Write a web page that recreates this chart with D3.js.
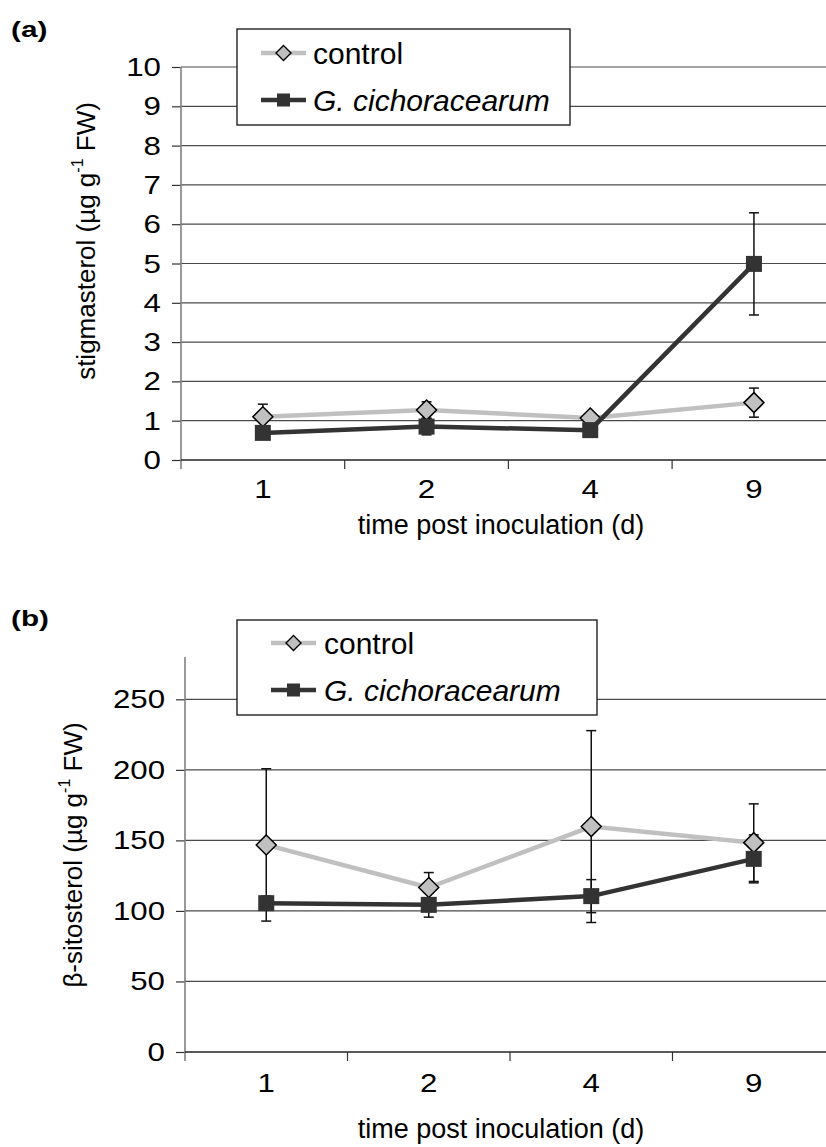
<!DOCTYPE html>
<html>
<head>
<meta charset="utf-8">
<script src="https://cdn.jsdelivr.net/npm/d3@7"></script>
<style>
  html, body { margin: 0; padding: 0; background: #fff; }
  svg { display: block; font-family: "Liberation Sans", Arial, sans-serif; }
</style>
</head>
<body>
<svg id="chart" width="826" height="1147"></svg>
<script>
// ---------- data ----------
const days = ["1", "2", "4", "9"];
const seriesNames = ["control", "G. cichoracearum"];

// panel (a) stigmasterol
const stigControl    = [1.10, 1.27, 1.07, 1.46];
const stigControlErr = [0.32, 0.21, 0.05, 0.37];
const stigInf        = [0.69, 0.85, 0.76, 4.99];
const stigInfErr     = [0.10, 0.21, 0.08, 1.30];
const stigTicks      = [0, 1, 2, 3, 4, 5, 6, 7, 8, 9, 10];

// panel (b) beta-sitosterol
const sitoControl    = [146.8, 116.6, 159.8, 148.4];
const sitoControlErr = [54.0, 10.6, 68.0, 27.5];
const sitoInf        = [105.5, 104.3, 110.5, 136.9];
const sitoInfErr     = [5.0, 8.7, 11.7, 17.0];
const sitoTicks      = [0, 50, 100, 150, 200, 250];

const svg = d3.select("#chart");
const W = 826;
const STRETCH = 1.25;

function panel(cfg) {
  const g = svg.append("g");
  const x = d3.scaleBand().domain(days).range([cfg.left, cfg.left + 4 * cfg.band]).padding(0);
  const y = d3.scaleLinear().domain(cfg.domain).range([cfg.y0, cfg.yTop]);

  // gridlines
  g.selectAll("line.grid").data(cfg.ticks.filter(d => d > 0)).join("line")
    .attr("x1", cfg.left).attr("x2", W)
    .attr("y1", d => y(d)).attr("y2", d => y(d))
    .attr("stroke", "#4a4a4a").attr("stroke-width", 1.2);

  // y axis ticks (generator) + stretched labels
  const yAxis = d3.axisLeft(y).tickValues(cfg.ticks).tickSize(9).tickFormat("");
  const ya = g.append("g").attr("transform", `translate(${cfg.left},0)`).call(yAxis);
  ya.select(".domain").remove();
  ya.selectAll(".tick line").attr("stroke", "#333").attr("stroke-width", 1.2);
  g.selectAll(null).data(cfg.ticks).join("text")
    .attr("transform", d => `translate(${cfg.left - 20},${y(d)}) scale(${STRETCH},1)`)
    .attr("text-anchor", "end").attr("dy", "0.36em").attr("font-size", 25)
    .text(d3.format("d"));
  g.append("line").attr("x1", cfg.left).attr("x2", cfg.left)
    .attr("y1", y(cfg.domain[1])).attr("y2", cfg.y0 + 9)
    .attr("stroke", "#808080").attr("stroke-width", 1.6);

  // x axis line + boundary ticks
  g.append("line").attr("x1", cfg.left).attr("x2", W).attr("y1", cfg.y0).attr("y2", cfg.y0)
    .attr("stroke", "#222").attr("stroke-width", 1.4);
  const bounds = days.map(d => x(d)).concat([x(days[3]) + x.bandwidth()]);
  g.selectAll("line.xt").data(bounds.slice(1)).join("line")
    .attr("x1", d => d).attr("x2", d => d).attr("y1", cfg.y0).attr("y2", cfg.y0 + 9)
    .attr("stroke", "#333").attr("stroke-width", 1.2);
  g.selectAll(null).data(days).join("text")
    .attr("transform", d => `translate(${x(d) + x.bandwidth() / 2},${cfg.xLabelY}) scale(${STRETCH},1)`)
    .attr("text-anchor", "middle").attr("font-size", 25).text(d => d);

  // axis titles
  g.append("text").attr("x", cfg.xTitleX).attr("y", cfg.xTitleY).attr("text-anchor", "middle")
    .attr("font-size", 27).text("time post inoculation (d)");
  const yt = g.append("text")
    .attr("transform", `translate(${cfg.yTitleX},${cfg.yTitleY}) rotate(-90)`)
    .attr("text-anchor", "middle").attr("dominant-baseline", "middle").attr("font-size", 26);
  yt.append("tspan").text(cfg.yTitle + " (µg g");
  yt.append("tspan").attr("font-size", 16).attr("dy", -9).text("-1");
  yt.append("tspan").attr("dy", 9).text(" FW)");

  // panel tag
  g.append("text").attr("transform", `translate(11,${cfg.tagY}) scale(1.35,1)`)
    .attr("font-size", 22).attr("font-weight", "bold").text(cfg.tag);

  const cx = d => x(d) + x.bandwidth() / 2;
  const lineGen = d3.line().x(d => cx(d.day)).y(d => y(d.v));

  const series = [
    { vals: cfg.control, errs: cfg.controlErr, color: "#c0c0c0", kind: "diamond" },
    { vals: cfg.inf, errs: cfg.infErr, color: "#333333", kind: "square" }
  ].map(s => Object.assign(s, { pts: days.map((d, i) => ({ day: d, v: s.vals[i], e: s.errs[i] })) }));

  // error bars (beneath markers)
  const eb = g.append("g");
  series.forEach(s => {
    s.pts.forEach(p => {
      const xx = cx(p.day);
      eb.append("line").attr("x1", xx).attr("x2", xx).attr("y1", y(p.v + p.e)).attr("y2", y(p.v - p.e));
      eb.append("line").attr("x1", xx - 5).attr("x2", xx + 5).attr("y1", y(p.v + p.e)).attr("y2", y(p.v + p.e));
      eb.append("line").attr("x1", xx - 5).attr("x2", xx + 5).attr("y1", y(p.v - p.e)).attr("y2", y(p.v - p.e));
    });
  });
  eb.selectAll("line").attr("stroke", "#111").attr("stroke-width", 1.5);

  series.forEach(s => {
    g.append("path").datum(s.pts).attr("d", lineGen).attr("fill", "none")
      .attr("stroke", s.color).attr("stroke-width", 4.5).attr("stroke-linejoin", "round");
    if (s.kind === "diamond") {
      g.selectAll(null).data(s.pts).join("path")
        .attr("d", d => { const X = cx(d.day), Y = y(d.v), r = 10;
          return `M${X},${Y - r}L${X + r},${Y}L${X},${Y + r}L${X - r},${Y}Z`; })
        .attr("fill", "#c0c0c0").attr("stroke", "#000").attr("stroke-width", 1.5);
    } else {
      g.selectAll(null).data(s.pts).join("rect")
        .attr("x", d => cx(d.day) - 8).attr("y", d => y(d.v) - 8)
        .attr("width", 16).attr("height", 16).attr("fill", "#333333");
    }
  });

  // legend
  const L = cfg.legend;
  g.append("rect").attr("x", L.x).attr("y", L.y).attr("width", L.w).attr("height", L.h)
    .attr("fill", "#fff").attr("stroke", "#222").attr("stroke-width", 1.4);
  seriesNames.forEach((name, i) => {
    const ry = L.rows[i];
    g.append("line").attr("x1", L.lx0).attr("x2", L.lx1).attr("y1", ry).attr("y2", ry)
      .attr("stroke", i === 0 ? "#c0c0c0" : "#333").attr("stroke-width", 4.5);
    const mx = (L.lx0 + L.lx1) / 2;
    if (i === 0) {
      const r = 7.5;
      g.append("path").attr("d", `M${mx},${ry - r}L${mx + r},${ry}L${mx},${ry + r}L${mx - r},${ry}Z`)
        .attr("fill", "#c0c0c0").attr("stroke", "#000").attr("stroke-width", 1.4);
    } else {
      g.append("rect").attr("x", mx - 6.5).attr("y", ry - 6.5).attr("width", 13).attr("height", 13).attr("fill", "#333");
    }
    g.append("text").attr("x", L.tx).attr("y", ry + 11).attr("font-size", 30)
      .attr("font-style", i === 1 ? "italic" : "normal").text(name);
  });
}

panel({
  tag: "(a)", tagY: 37,
  left: 181, band: 163.7, y0: 460, yTop: 67, domain: [0, 10], ticks: stigTicks,
  control: stigControl, controlErr: stigControlErr, inf: stigInf, infErr: stigInfErr,
  xLabelY: 498, xTitleX: 501, xTitleY: 534,
  yTitle: "stigmasterol", yTitleX: 88, yTitleY: 241,
  legend: { x: 237, y: 29, w: 333, h: 96, rows: [53, 100], lx0: 261, lx1: 306, tx: 313 }
});

panel({
  tag: "(b)", tagY: 626,
  left: 185, band: 162.5, y0: 1052, yTop: 657, domain: [0, 280], ticks: sitoTicks,
  control: sitoControl, controlErr: sitoControlErr, inf: sitoInf, infErr: sitoInfErr,
  xLabelY: 1092, xTitleX: 501, xTitleY: 1138,
  yTitle: "β-sitosterol", yTitleX: 75, yTitleY: 855,
  legend: { x: 237, y: 620, w: 360, h: 95, rows: [643, 690], lx0: 271, lx1: 316, tx: 324 }
});
</script>
</body>
</html>
